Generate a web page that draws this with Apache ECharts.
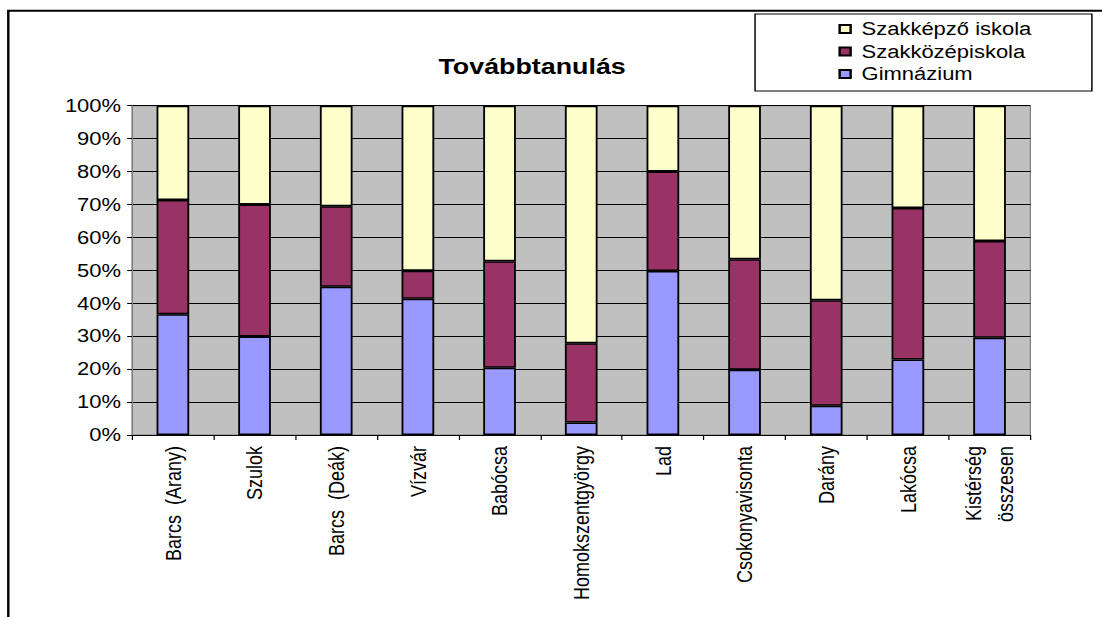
<!DOCTYPE html>
<html>
<head>
<meta charset="utf-8">
<script src="https://cdn.jsdelivr.net/npm/echarts/dist/echarts.min.js"></script>
<style>
html,body{margin:0;padding:0;background:#fff;overflow:hidden;width:1102px;height:617px;}
#wrap{width:903px;height:617px;transform:scaleX(1.2204);transform-origin:0 0;}
</style>
</head>
<body>
<div id="wrap"></div>
<script>
const categories = ['Barcs  (Arany)', 'Szulok', 'Barcs  (Deák)', 'Vízvár', 'Babócsa', 'Homokszentgyörgy', 'Lad', 'Csokonyavisonta', 'Darány', 'Lakócsa', 'Kistérség\nösszesen'];
const gimnazium = [36.7, 29.9, 45.0, 41.4, 20.4, 3.8, 49.8, 19.8, 8.9, 22.9, 29.5];
const szakkozep = [34.7, 40.1, 24.5, 8.5, 32.4, 24.1, 30.2, 33.6, 32.0, 46.0, 29.4];
const szakkepzo = [28.6, 30.0, 30.5, 50.1, 47.2, 72.1, 20.0, 46.6, 59.1, 31.1, 41.1];
const seriesNames = ['Gimnázium', 'Szakközépiskola', 'Szakképző iskola'];
const chartTitle = 'Továbbtanulás';

const FONT = '"Liberation Sans", Arial, sans-serif';
const chart = echarts.init(document.getElementById('wrap'), null, {renderer: 'svg'});
const barStyle = (c) => ({color: c, borderColor: '#000', borderWidth: 1.5});
chart.setOption({
  animation: false,
  backgroundColor: '#fff',
  title: {
    text: chartTitle,
    left: 431,
    textAlign: 'center',
    top: 50,
    textStyle: {fontFamily: FONT, fontSize: 22, fontWeight: 'bold', color: '#000'}
  },
  graphic: [
    {type: 'rect', shape: {x: 6.8, y: 10.7, width: 2000, height: 2000}, style: {fill: 'none', stroke: '#000', lineWidth: 2}, silent: true},
    {type: 'rect', shape: {x: 618.7, y: 14, width: 276, height: 77}, style: {fill: '#fff', stroke: '#000', lineWidth: 1.2}, silent: true, z: -1}
  ],
  legend: {
    orient: 'vertical',
    left: 682,
    top: 13,
    itemWidth: 9,
    itemHeight: 8,
    itemGap: 0.5,
    icon: 'rect',
    data: [seriesNames[2], seriesNames[1], seriesNames[0]],
    textStyle: {fontFamily: FONT, fontSize: 18, color: '#000', lineHeight: 22, padding: [0, 0, 0, 4]}
  },
  grid: {
    left: 108.2, right: 58.7, top: 105.7, bottom: 182,
    show: true, backgroundColor: '#C0C0C0', borderColor: '#808080', borderWidth: 1,
    containLabel: false
  },
  xAxis: {
    type: 'category',
    data: categories,
    axisLine: {show: true, lineStyle: {color: '#000', width: 1}},
    axisTick: {show: true, length: 5, lineStyle: {color: '#000'}},
    axisLabel: {rotate: 90, margin: 11, interval: 0, fontFamily: FONT, fontSize: 18, color: '#000', lineHeight: 26}
  },
  yAxis: {
    type: 'value',
    min: 0, max: 100, interval: 10,
    axisLine: {show: true, lineStyle: {color: '#808080'}},
    axisTick: {show: true, length: 4, lineStyle: {color: '#000'}},
    axisLabel: {formatter: '{value}%', margin: 9, fontFamily: FONT, fontSize: 18, color: '#000'},
    splitLine: {show: true, lineStyle: {color: '#000', width: 1}}
  },
  series: [
    {name: seriesNames[0], type: 'bar', stack: 'a', barWidth: '40%', data: gimnazium, itemStyle: barStyle('#9999FF')},
    {name: seriesNames[1], type: 'bar', stack: 'a', barWidth: '40%', data: szakkozep, itemStyle: barStyle('#993366')},
    {name: seriesNames[2], type: 'bar', stack: 'a', barWidth: '40%', data: szakkepzo, itemStyle: barStyle('#FFFFCC')}
  ]
});
</script>
</body>
</html>
